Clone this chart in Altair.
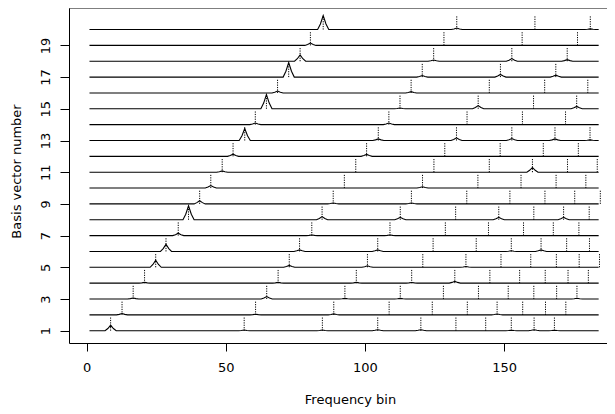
import altair as alt
import pandas as pd

# ---- data ----
ROW = list(range(1, 21))
FUNDAMENTAL_BIN = [8.6, 12.7, 16.7, 20.8, 24.8, 28.5, 32.9, 36.6, 40.6, 44.6,
                   48.7, 52.6, 56.8, 60.6, 64.6, 68.6, 72.6, 76.7, 80.4, 85.0]
# offsets (in bins) of harmonics 1..10 above the fundamental
HARMONIC_OFFSET = [0, 48, 76.1, 96, 111.5, 124.1, 134.8, 144, 152.2, 159.5]
# peak height at each drawn harmonic, per basis vector (row 1 .. row 20)
PEAK_HEIGHT = [
    [0.35, 0.04, 0.04, 0.06, 0.06, 0, 0, 0.03, 0.06, 0.03],
    [0.08, 0.04, 0.06, 0, 0, 0, 0.05, 0, 0, 0],
    [0.06, 0.15, 0.04, 0.04, 0, 0, 0, 0, 0, 0.05],
    [0.05, 0.05, 0.05, 0.04, 0.12, 0, 0, 0, 0, 0],
    [0.45, 0.12, 0.10, 0, 0.05, 0, 0, 0, 0, 0],
    [0.45, 0.10, 0.10, 0, 0, 0.04, 0.10, 0, 0],
    [0.15, 0.04, 0.04, 0, 0, 0, 0, 0],
    [0.88, 0.20, 0.15, 0, 0.15, 0, 0.15, 0],
    [0.20, 0.06, 0.06, 0, 0, 0, 0, 0],
    [0.16, 0, 0.08, 0, 0, 0, 0],
    [0.08, 0, 0, 0, 0.30, 0, 0],
    [0.14, 0.12, 0, 0, 0, 0],
    [0.75, 0.10, 0.17, 0.12, 0.10, 0.04],
    [0.10, 0.10, 0, 0, 0],
    [0.90, 0.05, 0.20, 0, 0.15],
    [0.12, 0.08, 0, 0, 0],
    [0.92, 0.10, 0.17, 0.12],
    [0.40, 0.08, 0.17, 0.10],
    [0.15, 0, 0, 0],
    [0.88, 0.10, 0, 0.04],
]
LINE_START, LINE_END = 1, 184
KERNEL_DX = [-2, -1, 0, 1, 2]
KERNEL_SHAPE = [0.0, 0.4, 1.0, 0.4, 0.0]
MARKER_LEN = 0.88
X_TICKS = [0, 50, 100, 150]
Y_TICKS = [1, 3, 5, 7, 9, 11, 13, 15, 17, 19]

# ---- build tables ----
line_rows, marker_rows = [], []
for r, f0, heights in zip(ROW, FUNDAMENTAL_BIN, PEAK_HEIGHT):
    pts = [(LINE_START, r), (LINE_END, r)]
    for off, h in zip(HARMONIC_OFFSET, heights):
        p = f0 + off
        marker_rows.append({"row": r, "bin": p, "y0": r, "y1": r + MARKER_LEN})
        if h > 0:
            for dx, s in zip(KERNEL_DX, KERNEL_SHAPE):
                pts.append((p + dx, r + s * h))
    pts.sort()
    for i, (x, y) in enumerate(pts):
        line_rows.append({"row": r, "bin": x, "val": y, "ord": i})

line_df = pd.DataFrame(line_rows)
marker_df = pd.DataFrame(marker_rows)

W, H = 538, 335
FONT = "DejaVu Sans"
xs = alt.Scale(domain=[-6.36, 187.0], nice=False, zero=False)
ys = alt.Scale(domain=[0.224, 21.36], nice=False, zero=False)

x_axis = alt.Axis(values=X_TICKS, tickSize=8, labelPadding=10, grid=False,
                  title="Frequency bin", titleX=281, titleY=56,
                  titleBaseline="middle", titleAlign="center",
                  titleFontWeight="normal", format="d", labelOverlap=False)
y_axis = alt.Axis(values=Y_TICKS, tickSize=9, labelAngle=-90, labelAlign="center",
                  labelBaseline="bottom", labelPadding=8, grid=False,
                  labelOverlap=False, labelFlush=False,
                  title="Basis vector number", titleX=-53, titleY=163,
                  titleAngle=-90, titleBaseline="middle", titleAlign="center",
                  titleFontWeight="normal", format="d")

lines = alt.Chart(line_df).mark_line(color="black", strokeWidth=1.1).encode(
    x=alt.X("bin:Q", scale=xs, axis=x_axis),
    y=alt.Y("val:Q", scale=ys, axis=y_axis),
    detail="row:N",
    order="ord:Q",
)

markers = alt.Chart(marker_df).mark_rule(
    color="black", strokeDash=[1.2, 1.2], strokeWidth=1
).encode(
    x=alt.X("bin:Q", scale=xs, axis=x_axis),
    y=alt.Y("y0:Q", scale=ys, axis=y_axis),
    y2="y1:Q",
)

top = alt.Chart(pd.DataFrame({"a": [0]})).mark_rule(color="black", strokeWidth=1).encode(
    y=alt.value(0), x=alt.value(0), x2=alt.value(W)
)

chart = alt.layer(lines, markers, top).properties(
    width=W, height=H,
    padding={"left": 61, "top": 0, "right": 0, "bottom": 70},
    autosize=alt.AutoSizeParams(type="none"),
).configure_view(stroke=None).configure_axis(
    domainColor="black", tickColor="black", labelColor="black", titleColor="black",
    labelFont=FONT, titleFont=FONT, labelFontSize=13, titleFontSize=13,
    domainWidth=1, tickWidth=1, labelOverlap=False,
).configure_axisY(labelOverlap=False)

chart.save("out.html", embed_options={"renderer": "svg", "actions": False})
